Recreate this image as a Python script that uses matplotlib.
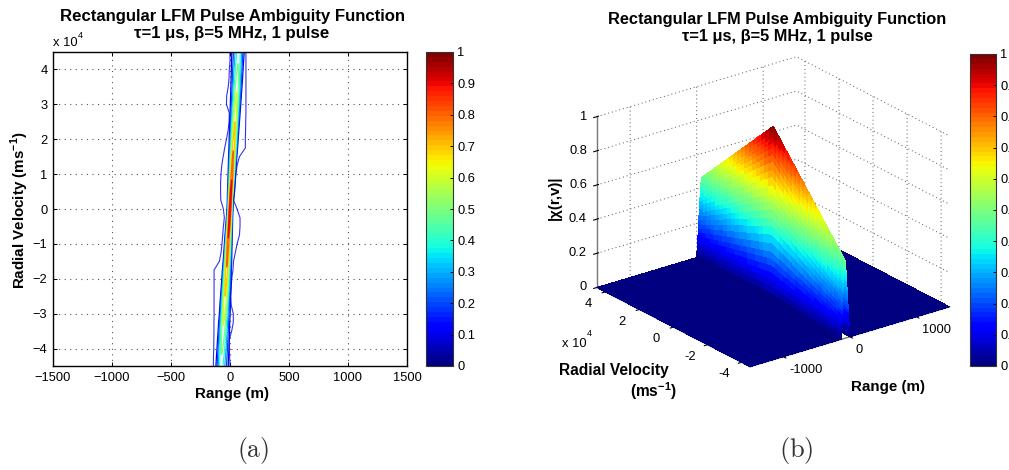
import numpy as np
import matplotlib
matplotlib.use('Agg')
import matplotlib.pyplot as plt
from matplotlib.cm import ScalarMappable
from matplotlib.colors import Normalize

plt.rcParams['font.family'] = ['Liberation Sans', 'DejaVu Sans']
plt.rcParams['mathtext.fontset'] = 'custom'
plt.rcParams['mathtext.rm'] = 'Liberation Sans'
plt.rcParams['mathtext.bf'] = 'Liberation Sans:bold'

# Radial velocity rows (x 10^4 m/s)
velocity = [-4.5, -4.25, -4.0, -3.75, -3.5, -3.25, -3.0, -2.75, -2.5, -2.25, -2.0, -1.75, -1.5,
            -1.25, -1.0, -0.75, -0.5, -0.25, 0.0, 0.25, 0.5, 0.75, 1.0, 1.25, 1.5, 1.75, 2.0,
            2.25, 2.5, 2.75, 3.0, 3.25, 3.5, 3.75, 4.0, 4.25, 4.5]
# Ridge position (m) and height
ridge_center = [-76, -72, -68, -64, -60, -56, -51, -47, -43, -38, -34, -30, -25, -21, -17, -13, -8, -4, 0,
                4, 8, 13, 17, 21, 25, 30, 34, 38, 42, 47, 51, 55, 59, 63, 66, 70, 74]
ridge_peak = [0.46, 0.49, 0.52, 0.55, 0.58, 0.61, 0.64, 0.67, 0.70, 0.73, 0.76, 0.79, 0.82, 0.85, 0.88,
              0.91, 0.94, 0.97, 1.00, 0.97, 0.94, 0.91, 0.88, 0.85, 0.82, 0.79, 0.76, 0.73, 0.70, 0.67,
              0.64, 0.61, 0.58, 0.55, 0.52, 0.49, 0.46]
half_left = [56, 55, 53, 52, 50, 49, 47, 46, 44, 43, 41, 40, 38, 36, 35, 33, 32, 30, 28,
             30, 33, 35, 38, 40, 43, 45, 48, 50, 53, 55, 58, 60, 63, 66, 69, 72, 76]
half_right = [79, 76, 74, 71, 68, 65, 62, 60, 57, 54, 51, 48, 45, 42, 39, 36, 33, 30, 28,
              30, 32, 33, 35, 36, 38, 40, 41, 43, 45, 46, 48, 50, 52, 54, 56, 58, 60]
# Cross-ridge shape, centre to foot
lobe_frac = [0.0, 0.04, 0.08, 0.12, 0.16, 0.20, 0.24, 0.28, 0.32, 0.36, 0.40, 0.44, 0.48,
             0.52, 0.56, 0.60, 0.64, 0.68, 0.72, 0.76, 0.80, 0.84, 0.88, 0.92, 0.96, 1.0]
lobe_shape = [1.0, 0.99, 0.97, 0.94, 0.91, 0.88, 0.84, 0.80, 0.75, 0.71, 0.66, 0.61, 0.57,
              0.52, 0.47, 0.42, 0.37, 0.32, 0.27, 0.23, 0.19, 0.15, 0.11, 0.07, 0.03, 0.0]
# Outermost contour of the left panel (m)
outer_left = [-141, -140, -138, -137, -136, -136, -135, -135, -135, -135, -135, -135, -90, -76, -68, -62, -56, -48, -56,
              -78, -80, -80, -76, -70, -58, -45, -30, -16, -8, -6, -30, -28, -15, -8, -6, 0, 0]
outer_right = [0, -3, -6, -6, 14, 28, 28, 10, 5, 10, 15, 25, 30, 45, 60, 80, 85, 85, 60,
               30, 40, 45, 50, 60, 80, 130, 130, 132, 133, 135, 135, 135, 135, 135, 135, 135, 135]
range_limits = [-1500, 1500]
range_ticks = [-1500, -1000, -500, 0, 500, 1000, 1500]
range_labels = ['\u22121500', '\u22121000', '\u2212500', '0', '500', '1000', '1500']
velocity_ticks = [-4, -3, -2, -1, 0, 1, 2, 3, 4]
velocity_labels = ['\u22124', '\u22123', '\u22122', '\u22121', '0', '1', '2', '3', '4']
contour_levels = [0.1, 0.2, 0.3, 0.4, 0.5, 0.6, 0.7, 0.8, 0.9]
bar_ticks = [0, 0.1, 0.2, 0.3, 0.4, 0.5, 0.6, 0.7, 0.8, 0.9, 1]
bar_labels = ['0', '0.1', '0.2', '0.3', '0.4', '0.5', '0.6', '0.7', '0.8', '0.9', '1']
surf_range_ticks = [-1000, 0, 1000]
surf_range_labels = ['-1000', '0', '1000']
surf_velocity_ticks = [-4, -2, 0, 2, 4]
surf_velocity_labels = ['-4', '-2', '0', '2', '4']
surf_z_ticks = [0, 0.2, 0.4, 0.6, 0.8, 1]
surf_z_labels = ['0', '0.2', '0.4', '0.6', '0.8', '1']
title_text = 'Rectangular LFM Pulse Ambiguity Function\n\u03c4=1 \u03bcs, \u03b2=5 MHz, 1 pulse'

W, H = 1009, 470
jet = plt.get_cmap('jet', 64)


def px_box(left, top, right, bottom):
    return [left / W, 1 - bottom / H, (right - left) / W, (bottom - top) / H]


def px_text(x, y, s, **kw):
    kw.setdefault('ha', 'center')
    kw.setdefault('va', 'center')
    fig.text(x / W, 1 - y / H, s, **kw)


def add_bar(box):
    cax = fig.add_axes(px_box(*box))
    cb = fig.colorbar(ScalarMappable(Normalize(0, 1), jet), cax=cax)
    cb.set_ticks(bar_ticks)
    cb.set_ticklabels(bar_labels)
    cax.tick_params(direction='in', length=2, width=0.7, labelsize=9.3, pad=3)
    cb.outline.set_linewidth(0.8)
    cb.outline.set_edgecolor('#333333')


# Build the sheared ridge grid, with flat ground out to the range limits
frac = np.array(lobe_frac)
shape = np.array(lobe_shape)
offsets = np.concatenate([-frac[:0:-1], frac])
profile = np.concatenate([shape[:0:-1], shape])
v = np.array(velocity)
center = np.array(ridge_center, float)
widths = np.where(offsets[None, :] < 0, np.array(half_left)[:, None], np.array(half_right)[:, None])
X = center[:, None] + offsets[None, :] * widths
Z = np.array(ridge_peak)[:, None] * profile[None, :]
X = np.column_stack([np.full(len(v), range_limits[0]), X, np.full(len(v), range_limits[1])])
Z = np.column_stack([np.zeros(len(v)), Z, np.zeros(len(v))])
Y = np.repeat(v[:, None], X.shape[1], axis=1)

fig = plt.figure(figsize=(W / 100, H / 100), dpi=100)

# Contour panel
ax = fig.add_axes(px_box(53, 52, 407, 366))
ax.contour(X, Y, Z, levels=contour_levels, cmap=jet, vmin=0, vmax=1, linewidths=0.9)
ax.plot(outer_left, velocity, color=jet(0.1), lw=0.8, alpha=0.8)
ax.plot(outer_right, velocity, color=jet(0.1), lw=0.8, alpha=0.8)
ax.set_xlim(range_limits)
ax.set_ylim(-4.5, 4.5)
ax.set_xticks(range_ticks)
ax.set_xticklabels(range_labels)
ax.set_yticks(velocity_ticks)
ax.set_yticklabels(velocity_labels)
ax.tick_params(direction='in', length=3, width=0.7, top=True, right=True, labelsize=9.3, pad=4)
ax.grid(True, linestyle=(0, (1, 4)), color='#555555', linewidth=0.8)
ax.set_axisbelow(True)
for s in ax.spines.values():
    s.set_linewidth(1.0)
add_bar((426, 52, 453, 366))

# Surface panel
ax3 = fig.add_axes(px_box(573, 22, 963, 412), projection='3d', proj_type='ortho')
ax3.patch.set_alpha(0)
ax3.view_init(elev=23.2, azim=-127.3)
ax3.set_box_aspect((251, 253, 186))
ax3.plot_surface(X, Y, Z, cmap=jet, vmin=0, vmax=1, rstride=1, cstride=1,
                 linewidth=0, edgecolor='none', antialiased=False, shade=False)
ax3.set_xlim(range_limits, view_margin=0)
ax3.set_ylim(-4.5, 4.5, view_margin=0)
ax3.set_zlim(0, 1, view_margin=0)
ax3.set_xticks(surf_range_ticks)
ax3.set_yticks(surf_velocity_ticks)
ax3.set_zticks(surf_z_ticks)
ax3.set_xticklabels([])
ax3.set_yticklabels([])
ax3.set_zticklabels([])
for a in (ax3.xaxis, ax3.yaxis, ax3.zaxis):
    a.set_pane_color((1, 1, 1, 0))
    a.pane.set_edgecolor((1, 1, 1, 0))
    a._axinfo['grid'].update(color='#555555', linewidth=0.7, linestyle=(0, (1, 3)))
    a._axinfo['axisline']['color'] = '#777777'
    a.line.set_color('#777777')
    a.line.set_linewidth(1.0)
# Tick labels sit a little off the box edges, like the original
for t, s in zip(surf_range_ticks, surf_range_labels):
    ax3.text(t, -4.85, -0.06, s, fontsize=9.3, ha='left', va='center')
for t, s in zip(surf_velocity_ticks, surf_velocity_labels):
    ax3.text(-1763, t, -0.04, s, fontsize=9.3, ha='center', va='center')
for t, s in zip(surf_z_ticks, surf_z_labels):
    ax3.text(-1650, 4.5, t + 0.018, s, fontsize=9.3, ha='right', va='center')
add_bar((970, 54, 996, 366))

# Titles and labels placed by pixel
px_text(232, 25, title_text, fontsize=12.1, fontweight='bold', linespacing=1.15)
px_text(777, 28, title_text, fontsize=11.8, fontweight='bold', linespacing=1.24)
px_text(232, 394, 'Range (m)', fontsize=10.9, fontweight='bold')
px_text(20, 210, r'Radial Velocity (ms$^{\mathbf{-1}}$)', fontsize=10.9, fontweight='bold', rotation=90)
px_text(53, 43, 'x 10', fontsize=9.3, ha='left')
px_text(78, 35, '4', fontsize=6.5, ha='left')
px_text(555, 198, '|\u03c7(r,v)|', fontsize=10.9, fontweight='bold', rotation=90)
px_text(614, 370, 'Radial Velocity', fontsize=11.2, fontweight='bold')
px_text(653, 391, r'(ms$^{\mathbf{-1}}$)', fontsize=11.2, fontweight='bold')
px_text(574, 344, 'x 10', fontsize=9.3)
px_text(589, 333, '4', fontsize=6.5)
px_text(888, 387, 'Range (m)', fontsize=10.9, fontweight='bold')
px_text(253, 451, r'$\mathrm{(a)}$', fontsize=18.5, math_fontfamily='cm', color='#333333')
px_text(796, 451, r'$\mathrm{(b)}$', fontsize=19, math_fontfamily='cm', color='#333333')

fig.savefig('out.png', dpi=100)
